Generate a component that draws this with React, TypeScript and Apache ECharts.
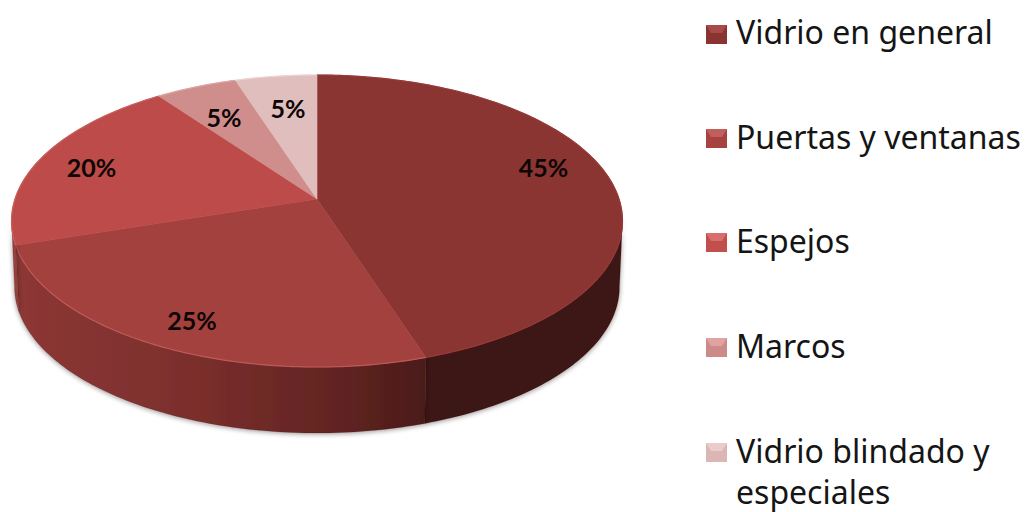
import React, { useEffect, useRef } from "react";
import * as echarts from "echarts";

const categories = ["Vidrio en general", "Puertas y ventanas", "Espejos", "Marcos", "Vidrio blindado y especiales"];
const shares = [45, 25, 20, 5, 5];
const faceColors = ["#8b3533", "#a3413f", "#bc4b49", "#cf8e8c", "#e0bebd"];
const edgeColors = ["#953a38", "#bd5a58", "#c9605e", "#dba5a3", "#ecd2d1"];
const swatchBase = ["#8a3331", "#a64341", "#c04f4d", "#cc8a88", "#dcb6b5"];
const swatchTop = ["#a84a48", "#c25f5d", "#d96f6c", "#e0a3a1", "#ebcccb"];
const labelRadius = [0.81, 0.837, 0.807, 0.713, 0.713];
const labelAngleShift = [-7.6, -1, -1.3, -1.2, 0.4];

// Disc projection: apex of the pie, half-axes and perspective strength.
const APEX_X = 317;
const APEX_Y = 199;
const AXIS_X = 302;
const AXIS_Y = 142.7;
const PERSPECTIVE = 0.1507;
const DEPTH = 66;
const BASE_SCALE = 0.99;
const RIM_FROM = 98.6;
const RIM_TO = 261.4;

const rad = (d: number) => (d * Math.PI) / 180;

function project(deg: number, r = 1): [number, number] {
  const u = Math.sin(rad(deg)) * r;
  const v = -Math.cos(rad(deg)) * r;
  const w = 1 - PERSPECTIVE * v;
  return [APEX_X + (AXIS_X * u) / w, APEX_Y + (AXIS_Y * v) / w];
}

function lower(p: [number, number]): [number, number] {
  return [APEX_X + (p[0] - APEX_X) * BASE_SCALE, p[1] + DEPTH];
}

function arcPoints(from: number, to: number): [number, number][] {
  const pts: [number, number][] = [];
  const steps = Math.max(2, Math.ceil(Math.abs(to - from)));
  for (let i = 0; i <= steps; i++) pts.push(project(from + ((to - from) * i) / steps));
  return pts;
}

// Side wall shading, sampled left to right across the drawing.
function rimFill(index: number) {
  if (index === 0) return "#3c1312";
  if (index === 1) {
    return new echarts.graphic.LinearGradient(0, 0, 1, 0, [
      { offset: 0, color: "#8d3735" },
      { offset: 0.45, color: "#7a2e2c" },
      { offset: 0.78, color: "#622422" },
      { offset: 1, color: "#4b1b19" },
    ]);
  }
  return "#97403e";
}

function renderSlice(params: any, api: any) {
  const i = params.dataIndex;
  const total = shares.reduce((a, b) => a + b, 0);
  const before = shares.slice(0, i).reduce((a, b) => a + b, 0);
  const start = (before / total) * 360;
  const end = start + (api.value(0) / total) * 360;
  const arc = arcPoints(start, end);
  const children: any[] = [];

  const rimStart = Math.max(start, RIM_FROM);
  const rimEnd = Math.min(end, RIM_TO);
  if (rimEnd > rimStart) {
    const upper = arcPoints(rimStart, rimEnd);
    const wall = [...upper, ...upper.map(lower).reverse()];
    children.push({
      type: "polygon",
      shape: { points: wall },
      style: {
        fill: rimFill(i),
        stroke: "rgba(40,10,10,0.35)",
        lineWidth: 0.5,
        shadowBlur: 5,
        shadowColor: "rgba(40,20,20,0.45)",
        shadowOffsetY: 1,
      },
    });
  }

  children.push({
    type: "polygon",
    shape: { points: [[APEX_X, APEX_Y], ...arc] },
    style: { fill: faceColors[i], stroke: faceColors[i], lineWidth: 0.6 },
  });
  children.push({
    type: "polyline",
    shape: { points: arc },
    style: { fill: "none", stroke: edgeColors[i], lineWidth: 1.2 },
  });

  const [lx, ly] = project((start + end) / 2 + labelAngleShift[i], labelRadius[i]);
  children.push({
    type: "text",
    z2: 50,
    style: {
      x: lx,
      y: ly,
      text: `${api.value(0)}%`,
      fill: "#0e0505",
      font: "bold 25px Lato",
      align: "center",
      verticalAlign: "middle",
    },
  });
  return { type: "group", children };
}

// Legend rows: bevelled swatch followed by the category name.
const LEGEND_ICON_X = 706;
const LEGEND_TEXT_X = 736;
const LEGEND_ICON_TOPS = [25, 129, 233, 338, 443];
const LEGEND_TEXT_TOPS = [11, 116, 220, 325, 430];

function legendGraphics() {
  const out: any[] = [];
  categories.forEach((name, i) => {
    const top = LEGEND_ICON_TOPS[i];
    out.push({
      type: "rect",
      shape: { x: LEGEND_ICON_X, y: top, width: 21, height: 19 },
      style: { fill: swatchBase[i] },
    });
    out.push({
      type: "polygon",
      shape: {
        points: [
          [LEGEND_ICON_X, top],
          [LEGEND_ICON_X + 21, top],
          [LEGEND_ICON_X + 16, top + 8],
          [LEGEND_ICON_X + 5, top + 8],
        ],
      },
      style: { fill: swatchTop[i] },
    });
    const lines = name === "Vidrio blindado y especiales" ? "Vidrio blindado y\nespeciales" : name;
    out.push({
      type: "text",
      style: {
        x: LEGEND_TEXT_X,
        y: LEGEND_TEXT_TOPS[i],
        text: lines,
        fill: "#151515",
        font: "32px 'Noto Sans'",
        lineHeight: 41,
        align: "left",
        verticalAlign: "top",
      },
    });
  });
  return out;
}

export default function App() {
  const ref = useRef<HTMLDivElement>(null);
  useEffect(() => {
    if (!ref.current) return;
    const chart = echarts.init(ref.current, undefined, { renderer: "svg" });
    chart.setOption({
      animation: false,
      backgroundColor: "#ffffff",
      graphic: legendGraphics(),
      series: [
        {
          type: "custom",
          coordinateSystem: "none",
          renderItem: renderSlice,
          data: shares.map((v, i) => ({ name: categories[i], value: [v] })),
        },
      ],
    });
    return () => chart.dispose();
  }, []);
  return <div ref={ref} style={{ position: "fixed", left: 0, top: 0, width: 1026, height: 512 }} />;
}
